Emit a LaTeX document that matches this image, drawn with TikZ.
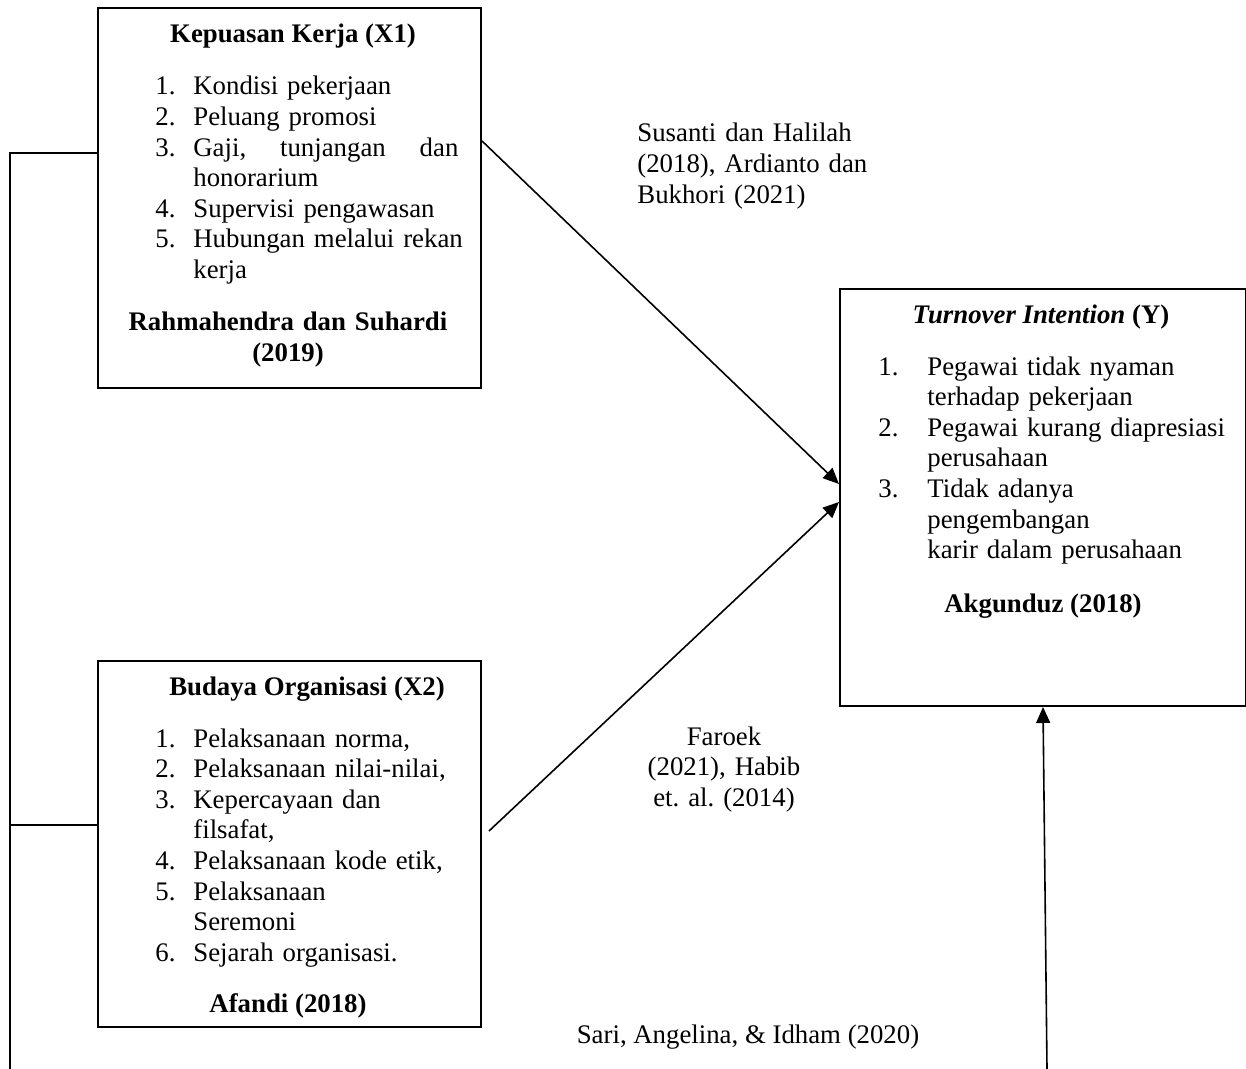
\documentclass[tikz,border=0pt]{standalone}
\usepackage{fontspec}
\setmainfont{Liberation Serif}
\usetikzlibrary{arrows.meta}
\frenchspacing
\begin{document}
\begin{tikzpicture}[x=0.5pt,y=-0.5pt]
\tikzset{
  box/.style={draw, line width=1pt, inner sep=0pt, anchor=north west},
  txt/.style={inner sep=0pt, font=\fontsize{13.4}{15.3}\selectfont},
  conn/.style={line width=0.8pt},
  arr/.style={conn, -{Triangle[length=8pt,width=7pt]}},
}
\frenchspacing
\useasboundingbox (0,0) rectangle (1246,1069);
% boxes
\node[box, minimum width=191.5pt, minimum height=190pt] (x1) at (97,7) {};
\node[box, minimum width=191.5pt, minimum height=183pt] (x2) at (97,660) {};
\node[box, minimum width=203pt, minimum height=208.5pt] (y) at (839,288) {};
% X1 texts
\node[txt, anchor=base] (x1t) at (293,43) {\textbf{Kepuasan Kerja (X1)}};
\node[txt, anchor=base west, text width=165pt, align=left] (x1l) at (155,95) {%
\makebox[19pt][l]{1.}Kondisi pekerjaan\\
\makebox[19pt][l]{2.}Peluang promosi\\
\makebox[19pt][l]{3.}\makebox[132.5pt][l]{Gaji,\hfill tunjangan\hfill dan}\\
\hspace*{19pt}honorarium\\
\makebox[19pt][l]{4.}Supervisi pengawasan\\
\makebox[19pt][l]{5.}Hubungan melalui rekan\\
\hspace*{19pt}kerja};
\node[txt, anchor=base, text width=180pt, align=center] (x1r) at (288,330) {\textbf{Rahmahendra dan Suhardi}\\[0.6pt]\textbf{(2019)}};
% X2 texts
\node[txt, anchor=base] (x2t) at (307,695) {\textbf{Budaya Organisasi (X2)}};
\node[txt, anchor=base west, text width=165pt, align=left] (x2l) at (155,747) {%
\makebox[19pt][l]{1.}Pelaksanaan norma,\\
\makebox[19pt][l]{2.}Pelaksanaan nilai-nilai,\\
\makebox[19pt][l]{3.}Kepercayaan dan\\
\hspace*{19pt}filsafat,\\
\makebox[19pt][l]{4.}Pelaksanaan kode etik,\\
\makebox[19pt][l]{5.}Pelaksanaan\\
\hspace*{19pt}Seremoni\\
\makebox[19pt][l]{6.}Sejarah organisasi.};
\node[txt, anchor=base] (x2r) at (288,1012) {\textbf{Afandi (2018)}};
% Y texts
\node[txt, anchor=base] (yt) at (1041,323) {\textbf{\textit{Turnover Intention}} \textbf{(Y)}};
\node[txt, anchor=base west, text width=175pt, align=left] (yl) at (878,375) {%
\makebox[24.5pt][l]{1.}Pegawai tidak nyaman\\
\hspace*{24.5pt}terhadap pekerjaan\\
\makebox[24.5pt][l]{2.}Pegawai kurang diapresiasi\\
\hspace*{24.5pt}perusahaan\\
\makebox[24.5pt][l]{3.}Tidak adanya\\
\hspace*{24.5pt}pengembangan\\
\hspace*{24.5pt}karir dalam perusahaan};
\node[txt, anchor=base] (yr) at (1043,612) {\textbf{Akgunduz (2018)}};
% labels
\node[txt, anchor=base west, text width=130pt, align=left] (l1) at (637,142) {Susanti dan Halilah\\(2018), Ardianto dan\\Bukhori (2021)};
\node[txt, anchor=base, text width=90pt, align=center] (l2) at (724,745) {Faroek\\(2021), Habib\\et. al. (2014)};
\node[txt, anchor=base] (l3) at (748,1043) {Sari, Angelina, \& Idham (2020)};
% connectors
\draw[arr] ([yshift=28.5pt]x1.east) -- ([yshift=6.75pt]y.west);
\draw[arr] ([xshift=3.5pt,yshift=6.5pt]x2.east) -- ([yshift=-2.25pt]y.west);
\coordinate (bot) at (1047,1069);
\draw[arr] (bot) -- (y.south);
\coordinate (lb) at (10,1069);
\draw[conn] ([yshift=22.5pt]x1.west) -| (lb);
\coordinate (x2l) at ([yshift=9.5pt]x2.west);
\draw[conn] (x2l) -- (x2l -| lb);
\end{tikzpicture}
\end{document}
